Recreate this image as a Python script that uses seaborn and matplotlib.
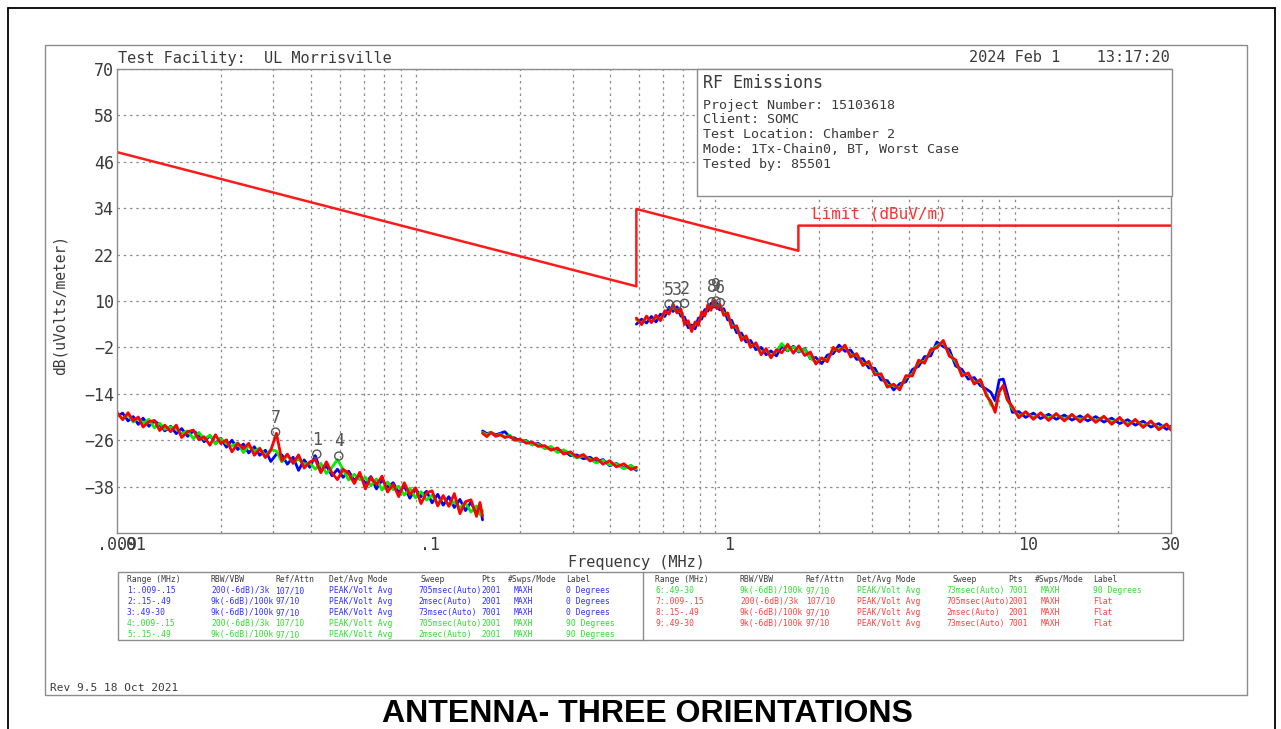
import numpy as np
import pandas as pd
import seaborn as sns
import matplotlib.pyplot as plt
from matplotlib.patches import Rectangle
from matplotlib.lines import Line2D

# --- traces (MHz, dBuV/m) ---
band1_freq = [0.0090, 0.0094, 0.0098, 0.0102, 0.0106, 0.0110, 0.0115, 0.0120, 0.0125, 0.0130,
              0.0136, 0.0142, 0.0148, 0.0155, 0.0162, 0.0169, 0.0176, 0.0184, 0.0192, 0.0200,
              0.0209, 0.0218, 0.0228, 0.0238, 0.0248, 0.0259, 0.0270, 0.0282, 0.0294, 0.0307,
              0.0320, 0.0334, 0.0349, 0.0364, 0.0380, 0.0397, 0.0414, 0.0432, 0.0451, 0.0471,
              0.0491, 0.0513, 0.0535, 0.0559, 0.0583, 0.0609, 0.0635, 0.0663, 0.0692, 0.0722,
              0.0754, 0.0787, 0.0821, 0.0857, 0.0895, 0.0934, 0.0975, 0.1017, 0.1062, 0.1108,
              0.1157, 0.1207, 0.1260, 0.1315, 0.1372, 0.1432, 0.1470, 0.1500]
band1_blue = [-19.8, -19.0, -21.0, -19.9, -21.9, -20.3, -22.4, -21.0, -22.0, -23.6,
              -22.4, -24.3, -23.0, -25.0, -23.6, -24.6, -26.4, -24.8, -26.8, -25.5,
              -27.8, -26.0, -28.4, -27.0, -29.3, -27.7, -29.9, -28.6, -31.5, -29.6,
              -29.8, -32.2, -30.4, -33.8, -31.1, -33.0, -30.0, -34.1, -32.6, -35.2,
              -33.5, -35.6, -34.0, -36.4, -35.0, -37.2, -35.4, -38.6, -36.3, -38.2,
              -37.0, -39.6, -37.8, -41.0, -38.6, -40.6, -39.2, -42.2, -40.0, -42.8,
              -40.6, -43.4, -41.3, -44.2, -42.0, -45.1, -42.7, -46.6]
band1_green = [-19.2, -20.4, -19.4, -21.3, -20.2, -21.7, -20.6, -22.8, -21.6, -23.2,
               -22.6, -23.0, -24.3, -23.6, -25.6, -24.0, -25.8, -24.7, -27.0, -25.6,
               -26.9, -27.5, -26.7, -29.2, -27.4, -28.9, -28.0, -30.1, -28.4, -28.8,
               -31.6, -30.0, -31.8, -30.9, -32.2, -31.9, -33.5, -32.0, -34.6, -33.0,
               -31.0, -33.6, -36.3, -34.8, -36.2, -35.6, -37.8, -36.0, -38.9, -36.8,
               -38.8, -37.9, -40.2, -38.4, -40.9, -39.3, -41.5, -40.2, -42.4, -40.6,
               -42.9, -41.9, -43.5, -42.2, -44.6, -43.0, -45.2, -44.2]
band1_red = [-18.8, -20.7, -18.9, -21.0, -20.0, -22.6, -21.2, -20.9, -23.5, -22.1,
             -23.8, -22.1, -25.3, -23.8, -23.4, -25.9, -25.1, -27.3, -24.6, -26.9,
             -25.9, -29.0, -26.8, -28.2, -26.8, -29.9, -28.2, -30.5, -28.6, -24.2,
             -31.3, -29.6, -32.0, -29.8, -33.2, -31.6, -31.0, -34.4, -31.6, -34.5,
             -36.2, -33.5, -34.6, -37.2, -34.3, -38.6, -35.6, -37.5, -35.3, -39.4,
             -37.4, -40.6, -37.0, -40.1, -38.3, -42.4, -39.6, -39.1, -43.0, -40.3,
             -43.1, -39.8, -45.0, -41.9, -41.4, -45.7, -42.1, -45.6]

band2_freq = [0.150, 0.155, 0.160, 0.166, 0.172, 0.178, 0.185, 0.192, 0.200, 0.210,
              0.220, 0.230, 0.242, 0.254, 0.267, 0.280, 0.295, 0.310, 0.326, 0.343,
              0.360, 0.379, 0.399, 0.420, 0.445, 0.470, 0.490]
band2_blue = [-23.6, -24.3, -24.0, -24.6, -24.2, -23.8, -25.2, -25.4, -26.3, -26.1,
              -27.2, -26.8, -28.0, -27.9, -28.9, -28.6, -30.0, -29.8, -30.8, -30.4,
              -31.6, -31.0, -32.6, -32.0, -33.2, -32.6, -33.8]
band2_green = [-24.0, -24.6, -23.9, -24.9, -24.4, -25.2, -24.7, -25.9, -26.2, -26.3,
               -27.2, -27.0, -28.2, -27.6, -29.2, -28.5, -29.5, -30.6, -30.0, -30.9,
               -31.9, -31.2, -32.4, -32.1, -33.4, -32.5, -33.5]
band2_red = [-24.2, -25.1, -24.0, -25.0, -24.6, -25.3, -25.0, -26.0, -25.7, -26.8,
             -26.5, -27.6, -27.4, -28.6, -28.0, -29.6, -29.0, -30.4, -29.7, -31.4,
             -30.6, -32.2, -31.3, -32.9, -32.1, -33.6, -33.0]

band3_freq = [0.49, 0.51, 0.53, 0.55, 0.57, 0.59, 0.61, 0.63, 0.65, 0.67,
              0.69, 0.71, 0.73, 0.75, 0.77, 0.79, 0.81, 0.83, 0.85, 0.87,
              0.89, 0.91, 0.93, 0.96, 0.99, 1.02, 1.06, 1.10, 1.14, 1.18,
              1.23, 1.28, 1.33, 1.38, 1.44, 1.50, 1.57, 1.64, 1.71, 1.79,
              1.87, 1.95, 2.04, 2.13, 2.23, 2.33, 2.44, 2.55, 2.67, 2.80,
              2.93, 3.07, 3.22, 3.38, 3.55, 3.72, 3.90, 4.10, 4.30, 4.50,
              4.72, 4.95, 5.20, 5.45, 5.72, 6.00, 6.30, 6.60, 6.92, 7.25,
              7.50, 7.75, 8.00, 8.25, 8.50, 8.85, 9.30, 9.80, 10.4, 11.0,
              11.7, 12.4, 13.2, 14.0, 14.9, 15.8, 16.8, 17.9, 19.0, 20.2,
              21.5, 22.8, 24.2, 25.7, 27.3, 29.0, 30.0]
band3_blue = [4.0, 5.3, 4.3, 6.0, 4.6, 6.6, 6.0, 8.4, 7.3, 8.5,
              6.1, 5.8, 3.1, 3.8, 2.8, 5.6, 5.3, 7.8, 7.4, 9.4,
              8.4, 9.5, 7.7, 8.0, 5.1, 5.0, 1.8, 1.7, -0.6, -0.2,
              -2.6, -2.0, -3.9, -2.9, -4.2, -1.7, -2.9, -1.7, -3.2, -2.3,
              -4.9, -4.6, -6.2, -4.0, -3.6, -1.4, -3.0, -2.7, -5.1, -4.9,
              -7.3, -7.4, -10.4, -10.6, -13.0, -11.4, -10.9, -7.7, -6.9, -4.4,
              -4.2, -0.6, -1.8, -2.6, -6.8, -7.7, -10.2, -9.8, -11.9, -12.8,
              -13.6, -15.8, -10.4, -10.2, -13.8, -18.8, -18.6, -20.1, -19.0, -20.4,
              -19.3, -20.6, -19.5, -20.8, -19.7, -21.0, -19.9, -21.3, -20.3, -21.7,
              -20.7, -22.1, -21.1, -22.6, -21.7, -23.2, -22.4]
band3_green = [5.2, 4.2, 5.7, 4.7, 5.8, 5.3, 7.1, 7.0, 8.6, 7.1,
               7.4, 4.4, 4.4, 2.6, 4.0, 4.2, 6.6, 6.5, 8.6, 8.0,
               9.6, 8.2, 8.9, 6.9, 6.4, 3.7, 3.1, 0.4, 0.6, -1.5,
               -1.3, -3.3, -2.7, -4.2, -3.0, -1.0, -2.8, -1.9, -3.0, -2.5,
               -4.8, -5.8, -5.0, -5.2, -2.5, -2.6, -1.8, -4.0, -4.0, -6.2,
               -6.2, -8.6, -9.2, -11.8, -11.9, -12.5, -9.8, -8.9, -5.8, -5.6,
               -3.0, -1.6, -0.7, -3.8, -5.7, -8.9, -9.0, -11.0, -10.8, -14.0,
               -16.8, -18.0, -13.2, -12.1, -15.4, -17.8, -19.7, -18.9, -20.1, -19.2,
               -20.3, -19.4, -20.5, -19.6, -20.7, -19.8, -20.9, -20.1, -21.3, -20.5,
               -21.8, -20.9, -22.2, -21.4, -22.8, -22.0, -23.0]
band3_red = [5.6, 3.9, 6.1, 4.4, 6.3, 4.9, 7.5, 6.6, 9.2, 6.9,
             7.9, 3.9, 4.9, 2.1, 4.6, 3.7, 7.2, 6.1, 9.1, 7.6,
             10.1, 8.0, 9.3, 6.3, 6.9, 3.1, 3.6, -0.2, 1.0, -2.0,
             -0.8, -3.9, -2.3, -4.7, -2.6, -3.4, -1.2, -3.5, -1.6, -4.1,
             -3.2, -6.3, -4.7, -5.7, -2.0, -3.1, -1.4, -4.5, -3.6, -6.7,
             -5.6, -9.1, -8.8, -12.3, -11.5, -13.0, -9.3, -9.4, -5.3, -6.1,
             -2.6, -2.1, -0.2, -4.3, -5.2, -9.4, -8.6, -11.5, -10.3, -14.5,
             -16.0, -18.8, -13.5, -11.8, -15.5, -17.3, -20.2, -18.6, -20.6, -18.9,
             -20.9, -19.1, -21.0, -19.3, -21.3, -19.4, -21.4, -19.8, -21.9, -20.1,
             -22.3, -20.6, -22.7, -21.0, -23.3, -21.8, -23.4]

# FCC 15.209 style limit line
limit_freq = [0.009, 0.49, 0.49, 1.705, 1.705, 30.0]
limit_level = [48.5, 13.8, 33.8, 23.0, 29.5, 29.5]

# peak markers
marker_ids = ["7", "1", "4", "5", "3", "2", "8", "9", "6"]
marker_freq = [0.0305, 0.0419, 0.0496, 0.63, 0.67, 0.71, 0.875, 0.905, 0.935]
marker_level = [-23.9, -29.6, -30.1, 9.2, 9.0, 9.4, 9.8, 10.0, 9.6]

trace_names = ["0 Degrees", "90 Degrees", "Flat"]
trace_colors = {"0 Degrees": "#0000ff", "90 Degrees": "#00ee00", "Flat": "#ff0000"}

y_ticks = [70, 58, 46, 34, 22, 10, -2, -14, -26, -38]
x_ticks = [0.009, 0.01, 0.1, 1, 10, 30]
x_ticklabels = [".009", ".01", ".1", "1", "10", "30"]
x_grid = [0.01, 0.02, 0.03, 0.04, 0.05, 0.06, 0.07, 0.08, 0.09,
          0.1, 0.2, 0.3, 0.4, 0.5, 0.6, 0.7, 0.8, 0.9,
          1, 2, 3, 4, 5, 6, 7, 8, 9, 10, 20]

info_lines = ["Project Number: 15103618", "Client: SOMC", "Test Location: Chamber 2",
              "Mode: 1Tx-Chain0, BT, Worst Case", "Tested by: 85501"]

table_header = ["Range (MHz)", "RBW/VBW", "Ref/Attn", "Det/Avg Mode", "Sweep", "Pts",
                "#Swps/Mode", "Label"]
table_left = [
    ["1:.009-.15", "200(-6dB)/3k", "107/10", "PEAK/Volt Avg", "705msec(Auto)", "2001", "MAXH", "0 Degrees"],
    ["2:.15-.49", "9k(-6dB)/100k", "97/10", "PEAK/Volt Avg", "2msec(Auto)", "2001", "MAXH", "0 Degrees"],
    ["3:.49-30", "9k(-6dB)/100k", "97/10", "PEAK/Volt Avg", "73msec(Auto)", "7001", "MAXH", "0 Degrees"],
    ["4:.009-.15", "200(-6dB)/3k", "107/10", "PEAK/Volt Avg", "705msec(Auto)", "2001", "MAXH", "90 Degrees"],
    ["5:.15-.49", "9k(-6dB)/100k", "97/10", "PEAK/Volt Avg", "2msec(Auto)", "2001", "MAXH", "90 Degrees"],
]
table_right = [
    ["6:.49-30", "9k(-6dB)/100k", "97/10", "PEAK/Volt Avg", "73msec(Auto)", "7001", "MAXH", "90 Degrees"],
    ["7:.009-.15", "200(-6dB)/3k", "107/10", "PEAK/Volt Avg", "705msec(Auto)", "2001", "MAXH", "Flat"],
    ["8:.15-.49", "9k(-6dB)/100k", "97/10", "PEAK/Volt Avg", "2msec(Auto)", "2001", "MAXH", "Flat"],
    ["9:.49-30", "9k(-6dB)/100k", "97/10", "PEAK/Volt Avg", "73msec(Auto)", "7001", "MAXH", "Flat"],
]
row_colors_left = ["#3030ff", "#3030ff", "#3030ff", "#30dd30", "#30dd30"]
row_colors_right = ["#30dd30", "#ff4040", "#ff4040", "#ff4040"]

# --- long table for seaborn ---
bands = [(band1_freq, band1_blue, band1_green, band1_red),
         (band2_freq, band2_blue, band2_green, band2_red),
         (band3_freq, band3_blue, band3_green, band3_red)]
rows = []
for b, (freq, *levels) in enumerate(bands):
    for name, vals in zip(trace_names, levels):
        rows += [dict(freq=f, level=v, trace=name, band=b) for f, v in zip(freq, vals, strict=True)]
df = pd.DataFrame(rows)

sns.set_theme(style="white")
plt.rcParams["font.family"] = "DejaVu Sans Mono"

W, H = 1281, 729
TXT = "#3a3a3a"
GRAY = "#8c8c8c"


def fx(x):
    return x / W


def fy(y):
    return 1 - y / H


fig = plt.figure(figsize=(W / 100, H / 100), dpi=100)
ax = fig.add_axes([fx(117), fy(533), fx(1171) - fx(117), fy(69) - fy(533)])
ax.set_xscale("log")

sns.lineplot(data=df, x="freq", y="level", hue="trace", units="band", estimator=None,
             hue_order=trace_names, palette=trace_colors, sort=False, lw=2.0,
             legend=False, ax=ax)
sns.lineplot(x=limit_freq, y=limit_level, color="#ff1a1a", lw=1.8, sort=False,
             estimator=None, ax=ax)

ax.scatter(marker_freq, marker_level, s=34, facecolors="none", edgecolors="#555555",
           lw=1.0, zorder=5)
for mid, f, v in zip(marker_ids, marker_freq, marker_level):
    ax.annotate(mid, (f, v), xytext=(0, 4), textcoords="offset points", ha="center",
                va="bottom", fontsize=12, color="#555555", zorder=6)

ax.text(1.9, 32.5, "Limit (dBuV/m)", color="#ff3030", fontsize=11.5, va="center")

# axes, ticks, grid
ax.set_xlim(0.009, 30)
ax.set_ylim(-50, 70)
ax.set_xticks(x_ticks, labels=x_ticklabels)
ax.set_xticks(x_grid, minor=True)
ax.xaxis.set_minor_formatter(plt.NullFormatter())
ax.set_yticks(y_ticks)
ax.grid(False)
ax.xaxis.grid(True, which="minor", ls=(0, (2, 3)), color=GRAY, lw=0.9)
ax.yaxis.grid(True, which="major", ls=(0, (2, 3)), color=GRAY, lw=0.9)
ax.tick_params(which="both", length=0, labelsize=12, colors=TXT, pad=2)
ax.set_xlabel("")
ax.set_ylabel("")
for s in ax.spines.values():
    s.set_color(GRAY)
    s.set_linewidth(1.0)

fig.text(fx(636), fy(563), "Frequency (MHz)", ha="center", va="center", fontsize=11, color=TXT)
fig.text(fx(60), fy(305), "dB(uVolts/meter)", ha="center", va="center", rotation=90,
         fontsize=10.5, color=TXT)

# header
fig.text(fx(118), fy(58), "Test Facility:  UL Morrisville", fontsize=11, color=TXT, va="center")
fig.text(fx(1170), fy(58), "2024 Feb 1    13:17:20", fontsize=11, color=TXT, va="center", ha="right")

# info box
fig.add_artist(Rectangle((fx(697), fy(196)), fx(1172) - fx(697), fy(69) - fy(196),
                         transform=fig.transFigure, facecolor="white", edgecolor=GRAY,
                         lw=1.0, zorder=2.5))
fig.text(fx(703), fy(83), "RF Emissions", fontsize=12, color=TXT, va="center", zorder=4)
for i, line in enumerate(info_lines):
    fig.text(fx(703), fy(105 + 14.8 * i), line, fontsize=9.6, color=TXT, va="center", zorder=4)

# settings table (baseline aligned rows)
fig.add_artist(Rectangle((fx(118), fy(640)), fx(1183) - fx(118), fy(572) - fy(640),
                         transform=fig.transFigure, facecolor="none", edgecolor=GRAY, lw=1.0))
fig.add_artist(Line2D([fx(643), fx(643)], [fy(572), fy(640)], transform=fig.transFigure,
                      color=GRAY, lw=1.0))
head_x_left = [127, 211, 275, 329, 421, 481, 508, 566]
val_x_left = [127, 211, 275, 329, 418, 481, 514, 566]
head_x_right = [655, 740, 806, 857, 952, 1008, 1035, 1093]
val_x_right = [655, 740, 806, 857, 946, 1008, 1041, 1093]
for hx, vx, body, colors in [(head_x_left, val_x_left, table_left, row_colors_left),
                             (head_x_right, val_x_right, table_right, row_colors_right)]:
    for x, h in zip(hx, table_header):
        fig.text(fx(x), fy(582), h, fontsize=5.8, color=TXT, va="baseline")
    for r, (row, c) in enumerate(zip(body, colors)):
        for x, cell in zip(vx, row):
            fig.text(fx(x), fy(593 + 11 * r), cell, fontsize=5.8, color=c, va="baseline")

fig.text(fx(50), fy(688), "Rev 9.5 18 Oct 2021", fontsize=8, color=TXT, va="center")

# frames
fig.add_artist(Rectangle((fx(45), fy(695)), fx(1247) - fx(45), fy(45) - fy(695),
                         transform=fig.transFigure, facecolor="none", edgecolor=GRAY, lw=1.0))
for xs, ys in [([8, 1275], [8, 8]), ([8, 8], [8, 729]), ([1275, 1275], [8, 729])]:
    fig.add_artist(Line2D([fx(x) for x in xs], [fy(y) for y in ys], transform=fig.transFigure,
                          color="black", lw=1.3))

fig.text(fx(647), fy(714), "ANTENNA- THREE ORIENTATIONS", ha="center", va="center",
         fontsize=23, fontweight="bold", family=["Liberation Sans Narrow", "Liberation Sans"],
         color="black")

fig.savefig("out.png", dpi=100)
